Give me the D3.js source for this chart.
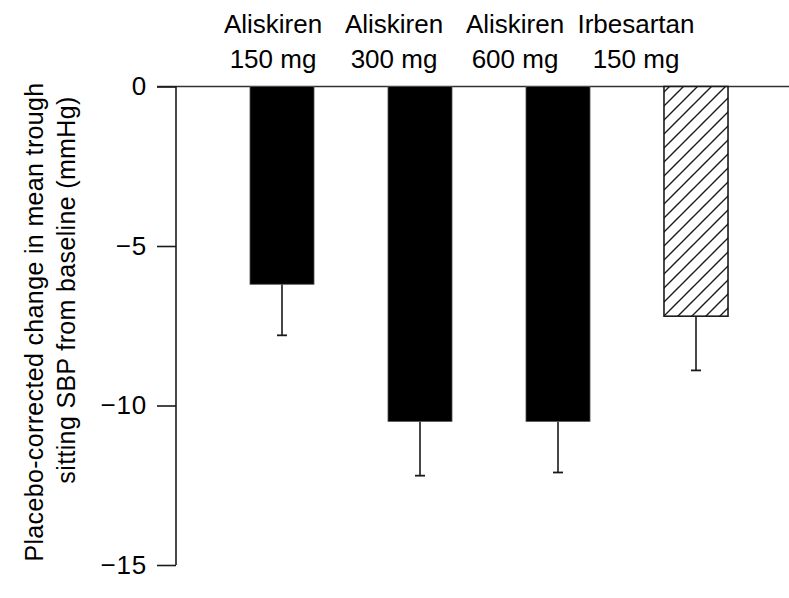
<!DOCTYPE html>
<html>
<head>
<meta charset="utf-8">
<script src="https://cdn.jsdelivr.net/npm/d3@7/dist/d3.min.js"></script>
<style>
  html, body { margin: 0; padding: 0; background: #fff; }
  svg { display: block; font-family: "Liberation Sans", Arial, Helvetica, sans-serif; }
</style>
</head>
<body>
<svg id="chart" width="789" height="598"></svg>
<script>
// Treatment groups (two-line labels) and placebo-corrected SBP change (mmHg)
const drugs = ["Aliskiren", "Aliskiren", "Aliskiren", "Irbesartan"];
const doses = ["150 mg", "300 mg", "600 mg", "150 mg"];
const groups = ["Aliskiren 150 mg", "Aliskiren 300 mg", "Aliskiren 600 mg", "Irbesartan 150 mg"];
const meanChange = [-6.2, -10.5, -10.5, -7.2];
const errorLow = [-7.8, -12.2, -12.1, -8.9];
const hatched = [false, false, false, true];
const yTicks = [0, -5, -10, -15];
const yTitleLines = ["Placebo-corrected change in mean trough", "sitting SBP from baseline (mmHg)"];

const svg = d3.select("#chart");
const ink = "#1a1a1a";

const y = d3.scaleLinear().domain([0, -15]).range([86.5, 565]);
const x = d3.scaleBand().domain(groups).range([213, 765])
  .paddingInner(0.536).paddingOuter(0.268);
const xLabel = d3.scalePoint().domain(groups).range([273, 636]);

// diagonal hatch fill
const defs = svg.append("defs");
const pat = defs.append("pattern")
  .attr("id", "hatch").attr("patternUnits", "userSpaceOnUse")
  .attr("width", 14).attr("height", 14);
pat.append("rect").attr("width", 14).attr("height", 14).attr("fill", "#fff");
pat.append("path")
  .attr("d", "M-3.5,3.5 L3.5,-3.5 M0,14 L14,0 M10.5,17.5 L17.5,10.5")
  .attr("stroke", ink).attr("stroke-width", 1.4);

// zero reference line across the plot
svg.append("line")
  .attr("x1", 157).attr("x2", 789)
  .attr("y1", y(0)).attr("y2", y(0))
  .attr("stroke", "#333").attr("stroke-width", 1.6);

// y axis
const yAxis = d3.axisLeft(y).tickValues(yTicks)
  .tickSize(19).tickPadding(10)
  .tickFormat(d => d === 0 ? "0" : "\u2212" + Math.abs(d));
const gY = svg.append("g").attr("transform", "translate(176,0)").call(yAxis);
gY.select(".domain").remove();
gY.selectAll(".tick line").attr("stroke", ink).attr("stroke-width", 1.6);
gY.selectAll(".tick text")
  .attr("fill", "#000")
  .style("font-size", "26px")
  .style("letter-spacing", "0.8px")
  .style("font-family", "'Liberation Sans', Arial, sans-serif");
svg.append("line")
  .attr("x1", 176).attr("x2", 176)
  .attr("y1", y(0)).attr("y2", y(-15))
  .attr("stroke", ink).attr("stroke-width", 1.6);

// error bars (downward only)
const err = svg.append("g");
groups.forEach((g, i) => {
  const cx = x(g) + x.bandwidth() / 2;
  err.append("line")
    .attr("x1", cx).attr("x2", cx)
    .attr("y1", y(meanChange[i])).attr("y2", y(errorLow[i]))
    .attr("stroke", ink).attr("stroke-width", 1.6);
  err.append("line")
    .attr("x1", cx - 5).attr("x2", cx + 5)
    .attr("y1", y(errorLow[i])).attr("y2", y(errorLow[i]))
    .attr("stroke", ink).attr("stroke-width", 1.8);
});

// bars
svg.append("g").selectAll("rect")
  .data(groups)
  .join("rect")
  .attr("x", d => x(d))
  .attr("width", x.bandwidth())
  .attr("y", y(0))
  .attr("height", (d, i) => y(meanChange[i]) - y(0))
  .attr("fill", (d, i) => hatched[i] ? "url(#hatch)" : "#000")
  .attr("stroke", (d, i) => hatched[i] ? ink : "#555")
  .attr("stroke-width", (d, i) => hatched[i] ? 1.6 : 0.8);

// group labels above the plot
const lab = svg.append("g").attr("font-size", 26).attr("text-anchor", "middle").attr("fill", "#000");
groups.forEach((g, i) => {
  const t = lab.append("text").attr("x", xLabel(g)).attr("y", 33);
  t.append("tspan").attr("x", xLabel(g)).text(drugs[i]);
  t.append("tspan").attr("x", xLabel(g)).attr("dy", 35).text(doses[i]);
});

// y axis title (two rotated lines)
const titleAnchors = [[43, 322], [75, 290]];
yTitleLines.forEach((line, i) => {
  svg.append("text")
    .attr("transform", `translate(${titleAnchors[i][0]},${titleAnchors[i][1]}) rotate(-90)`)
    .attr("text-anchor", "middle")
    .attr("font-size", 25).attr("letter-spacing", 0.35)
    .attr("fill", "#000")
    .text(line);
});
</script>
</body>
</html>
